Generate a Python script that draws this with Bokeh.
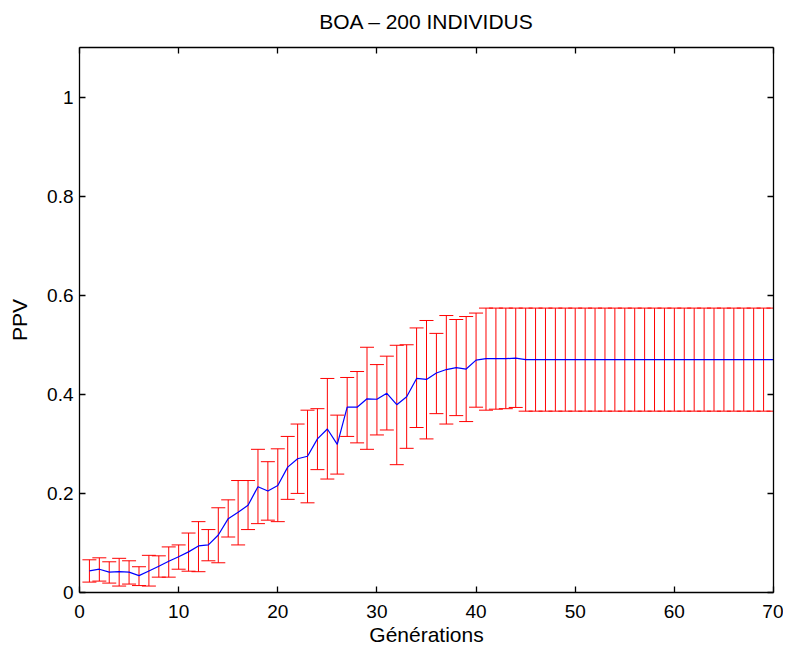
from bokeh.plotting import figure
from bokeh.models import (ColumnDataSource, LinearAxis,
                          FixedTicker, CustomJSTickFormatter, Range1d)
from bokeh.embed import file_html
from bokeh.resources import INLINE

generations = list(range(1, 71))
ppv_mean = [0.0435, 0.047, 0.041, 0.042, 0.041, 0.034, 0.0435, 0.053, 0.063, 0.072,
            0.082, 0.094, 0.096, 0.116, 0.149, 0.162, 0.176, 0.2135, 0.205, 0.216,
            0.253, 0.270, 0.275, 0.310, 0.330, 0.299, 0.374, 0.374, 0.391, 0.390,
            0.402, 0.379, 0.395, 0.432, 0.430, 0.443, 0.450, 0.454, 0.451, 0.469,
            0.472, 0.472, 0.472, 0.473, 0.470, 0.470, 0.470, 0.470, 0.470, 0.470,
            0.470, 0.470, 0.470, 0.470, 0.470, 0.470, 0.470, 0.470, 0.470, 0.470,
            0.470, 0.470, 0.470, 0.470, 0.470, 0.470, 0.470, 0.470, 0.470, 0.470]
ppv_upper = [0.066, 0.070, 0.062, 0.069, 0.064, 0.052, 0.075, 0.074, 0.092, 0.096,
             0.120, 0.143, 0.127, 0.171, 0.187, 0.226, 0.226, 0.289, 0.264, 0.290,
             0.315, 0.340, 0.368, 0.371, 0.432, 0.358, 0.434, 0.446, 0.495, 0.460,
             0.477, 0.499, 0.500, 0.534, 0.549, 0.523, 0.559, 0.551, 0.557, 0.564,
             0.574, 0.574, 0.574, 0.574, 0.574, 0.574, 0.574, 0.574, 0.574, 0.574,
             0.574, 0.574, 0.574, 0.574, 0.574, 0.574, 0.574, 0.574, 0.574, 0.574,
             0.574, 0.574, 0.574, 0.574, 0.574, 0.574, 0.574, 0.574, 0.574, 0.574]
ppv_lower = [0.021, 0.023, 0.019, 0.013, 0.017, 0.014, 0.013, 0.031, 0.031, 0.047,
             0.043, 0.042, 0.064, 0.060, 0.112, 0.096, 0.127, 0.139, 0.146, 0.143,
             0.188, 0.200, 0.181, 0.248, 0.229, 0.239, 0.315, 0.302, 0.289, 0.318,
             0.328, 0.258, 0.291, 0.333, 0.310, 0.361, 0.340, 0.357, 0.345, 0.374,
             0.368, 0.370, 0.371, 0.3735, 0.366, 0.366, 0.366, 0.366, 0.366, 0.366,
             0.366, 0.366, 0.366, 0.366, 0.366, 0.366, 0.366, 0.366, 0.366, 0.366,
             0.366, 0.366, 0.366, 0.366, 0.366, 0.366, 0.366, 0.366, 0.366, 0.366]
x_ticks = [0, 10, 20, 30, 40, 50, 60, 70]
y_ticks = [0, 0.2, 0.4, 0.6, 0.8, 1]
chart_title = "BOA \u2013 200 INDIVIDUS"

FONT = "Liberation Sans"
TICK_FS = "19px"
LABEL_FS = "21px"
RED = "#ff0000"

src = ColumnDataSource(dict(x=generations, m=ppv_mean, up=ppv_upper, lo=ppv_lower))

p = figure(width=783, height=648, output_backend="svg", toolbar_location=None,
           x_range=Range1d(0, 70), y_range=Range1d(0, 1.1),
           min_border_left=79, min_border_right=10, min_border_top=47, min_border_bottom=53,
           background_fill_color="white", border_fill_color="white")
p.outline_line_color = None
p.xgrid.visible = False
p.ygrid.visible = False

# error bars: stems + caps
p.segment(x0="x", y0="lo", x1="x", y1="up", source=src, line_color=RED, line_width=1)
p.scatter(x="x", y="up", source=src, marker="dash", size=14, line_color=RED, line_width=1)
p.scatter(x="x", y="lo", source=src, marker="dash", size=14, line_color=RED, line_width=1)
# mean curve
p.line("x", "m", source=src, line_color="#0000ff", line_width=1.2)

# extra axes for box ticks (no tick labels); the top one carries the title
blank = CustomJSTickFormatter(code="return '';")
p.add_layout(LinearAxis(formatter=blank), "right")
p.add_layout(LinearAxis(formatter=blank, axis_label=chart_title), "above")

fmt = CustomJSTickFormatter(code="return String(Math.round(tick*10)/10);")
for ax in p.xaxis:
    ax.ticker = FixedTicker(ticks=x_ticks)
for ax in p.yaxis:
    ax.ticker = FixedTicker(ticks=y_ticks)
for ax in p.axis:
    ax.axis_line_color = "black"
    ax.axis_line_width = 1.3
    ax.major_tick_line_color = "black"
    ax.major_tick_line_width = 1.3
    ax.major_tick_in = 6
    ax.major_tick_out = 0
    ax.minor_tick_line_color = None
    ax.major_label_text_font = FONT
    ax.major_label_text_font_size = TICK_FS
    ax.major_label_text_color = "black"
    ax.axis_label_text_font = FONT
    ax.axis_label_text_font_size = LABEL_FS
    ax.axis_label_text_font_style = "normal"
    ax.axis_label_text_color = "black"

for ax in (p.right[0], p.above[0]):
    ax.major_label_standoff = 0
p.above[0].axis_label_standoff = 15

xa = p.below[0]
xa.axis_label = "Générations"
xa.major_label_standoff = 12
xa.axis_label_standoff = 2

ya = p.left[0]
ya.formatter = fmt
ya.axis_label = "PPV"
ya.major_label_standoff = 6
ya.axis_label_standoff = 13

open("out.html", "w").write(file_html(p, INLINE))
